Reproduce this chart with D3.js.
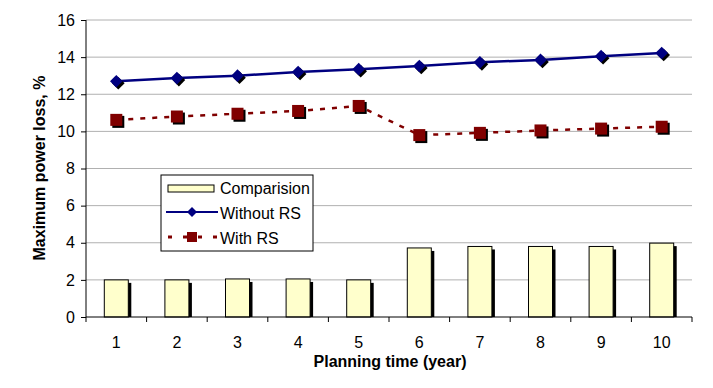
<!DOCTYPE html>
<html>
<head>
<meta charset="utf-8">
<script src="https://cdn.jsdelivr.net/npm/d3@7"></script>
<style>
  body { margin: 0; background: #fff; }
  text { font-family: "Liberation Sans", Arial, sans-serif; fill: #000; }
</style>
</head>
<body>
<svg id="chart" width="713" height="388"></svg>
<script>
var years = [1, 2, 3, 4, 5, 6, 7, 8, 9, 10];
var comparision = [2.0, 2.0, 2.05, 2.05, 2.0, 3.72, 3.8, 3.8, 3.8, 3.98];
var withoutRS = [12.7, 12.87, 13.0, 13.2, 13.35, 13.52, 13.72, 13.85, 14.05, 14.22];
var withRS = [10.62, 10.8, 10.95, 11.1, 11.37, 9.8, 9.92, 10.05, 10.15, 10.25];
var yTicks = [0, 2, 4, 6, 8, 10, 12, 14, 16];

var svg = d3.select("#chart");
var plotLeft = 86, plotRight = 692, plotTop = 20, plotBottom = 317;

var x = d3.scaleBand().domain(years).range([plotLeft, plotRight]);
var y = d3.scaleLinear().domain([0, 16]).range([plotBottom, plotTop]);

// gridlines
svg.selectAll(".grid")
    .data(yTicks.filter(function(d) { return d > 0; }))
    .enter().append("line")
    .attr("x1", plotLeft).attr("x2", plotRight)
    .attr("y1", function(d) { return y(d); })
    .attr("y2", function(d) { return y(d); })
    .attr("stroke", "#b0b0b0").attr("stroke-width", 1);

// bars with shadow
var bw = 24;
svg.selectAll(".shadow")
    .data(comparision)
    .enter().append("rect")
    .attr("x", function(d, i) { return x(years[i]) + x.bandwidth() / 2 - bw / 2 + 3; })
    .attr("y", function(d) { return y(d) + 3; })
    .attr("width", bw)
    .attr("height", function(d) { return plotBottom - y(d) - 3; })
    .attr("fill", "#000");
svg.selectAll(".bar")
    .data(comparision)
    .enter().append("rect")
    .attr("x", function(d, i) { return x(years[i]) + x.bandwidth() / 2 - bw / 2; })
    .attr("y", function(d) { return y(d); })
    .attr("width", bw)
    .attr("height", function(d) { return plotBottom - y(d); })
    .attr("fill", "#ffffcc").attr("stroke", "#000").attr("stroke-width", 1);

// axes
var yAxis = d3.axisLeft(y).tickValues(yTicks).tickSize(5).tickPadding(6);
var gy = svg.append("g").attr("transform", "translate(" + plotLeft + ",0)").call(yAxis);
gy.selectAll("text").style("font-size", "16px");
gy.select(".domain").attr("d", "M0," + plotTop + "V" + plotBottom);

var gx = svg.append("g").attr("transform", "translate(0," + plotBottom + ")");
gx.append("line").attr("x1", plotLeft).attr("x2", plotRight).attr("stroke", "#000");
gx.selectAll(".tk")
    .data(years.concat([11]))
    .enter().append("line")
    .attr("x1", function(d, i) { return plotLeft + i * x.bandwidth(); })
    .attr("x2", function(d, i) { return plotLeft + i * x.bandwidth(); })
    .attr("y1", 0).attr("y2", 5).attr("stroke", "#000");
gx.selectAll(".lbl")
    .data(years)
    .enter().append("text")
    .attr("x", function(d) { return x(d) + x.bandwidth() / 2; })
    .attr("y", 31)
    .attr("text-anchor", "middle")
    .style("font-size", "16px")
    .text(function(d) { return d; });

// lines
var cx = function(d, i) { return x(years[i]) + x.bandwidth() / 2; };
var line = d3.line().x(cx).y(function(d) { return y(d); });

svg.append("path").datum(withoutRS)
    .attr("d", line).attr("fill", "none")
    .attr("stroke", "#000080").attr("stroke-width", 2.5);
svg.append("path").datum(withRS)
    .attr("d", line).attr("fill", "none")
    .attr("stroke", "#800000").attr("stroke-width", 2.5)
    .attr("stroke-dasharray", "5,7");

function diamonds(g, data, off, color) {
  g.selectAll(null).data(data).enter().append("path")
    .attr("d", d3.symbol().type(d3.symbolSquare).size(80))
    .attr("transform", function(d, i) { return "translate(" + (cx(d, i) + off) + "," + (y(d) + off) + ") rotate(45)"; })
    .attr("fill", color);
}
function squares(g, data, off, color) {
  g.selectAll(null).data(data).enter().append("rect")
    .attr("x", function(d, i) { return cx(d, i) - 6 + off; })
    .attr("y", function(d) { return y(d) - 6 + off; })
    .attr("width", 12).attr("height", 12)
    .attr("fill", color);
}
var m1 = svg.append("g"); diamonds(m1, withoutRS, 2, "#000");
var m2 = svg.append("g"); diamonds(m2, withoutRS, 0, "#000080");
var m3 = svg.append("g"); squares(m3, withRS, 2, "#000");
var m4 = svg.append("g"); squares(m4, withRS, 0, "#800000");

// legend
var lg = svg.append("g").attr("transform", "translate(161,175)");
lg.append("rect").attr("width", 152).attr("height", 76)
    .attr("fill", "#fff").attr("stroke", "#000");
lg.append("rect").attr("x", 7).attr("y", 10).attr("width", 46).attr("height", 7)
    .attr("fill", "#ffffcc").attr("stroke", "#000");
lg.append("line").attr("x1", 5).attr("x2", 57).attr("y1", 37).attr("y2", 37)
    .attr("stroke", "#000080").attr("stroke-width", 2);
lg.append("path").attr("d", d3.symbol().type(d3.symbolSquare).size(50))
    .attr("transform", "translate(31,37) rotate(45)").attr("fill", "#000080");
lg.append("line").attr("x1", 7).attr("x2", 57).attr("y1", 62).attr("y2", 62)
    .attr("stroke", "#800000").attr("stroke-width", 3).attr("stroke-dasharray", "4,11");
lg.append("rect").attr("x", 26).attr("y", 57).attr("width", 10).attr("height", 10)
    .attr("fill", "#800000");
var legendNames = ["Comparision", "Without RS", "With RS"];
lg.selectAll(".lt").data(legendNames).enter().append("text")
    .attr("x", 59).attr("y", function(d, i) { return 19 + i * 25; })
    .style("font-size", "16px")
    .text(function(d) { return d; });

// titles
svg.append("text")
    .attr("x", 390).attr("y", 367)
    .attr("text-anchor", "middle")
    .style("font-size", "16px").style("font-weight", "bold")
    .text("Planning time (year)");
svg.append("text")
    .attr("transform", "translate(45,168) rotate(-90)")
    .attr("text-anchor", "middle")
    .style("font-size", "16px").style("font-weight", "bold")
    .text("Maximum power loss, %");
</script>
</body>
</html>
